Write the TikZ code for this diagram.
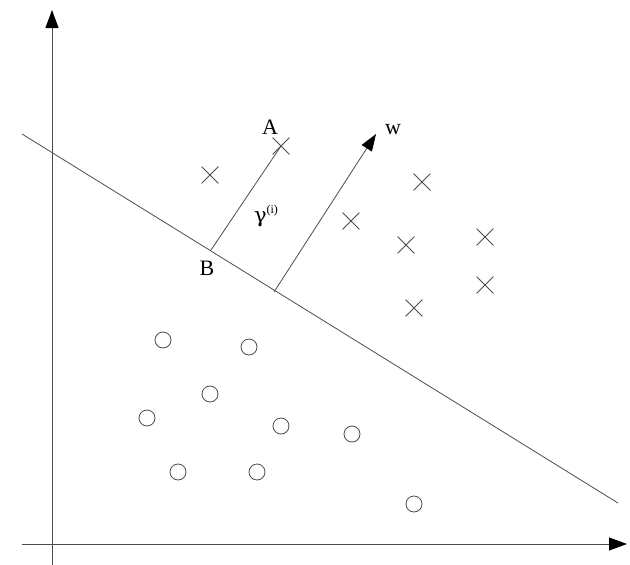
\documentclass[tikz,border=0pt]{standalone}
\usepackage{fontspec}
\setmainfont{Liberation Serif}
\newfontfamily\grkfont{DejaVu Serif}
\usetikzlibrary{arrows.meta,shapes.misc}
\begin{document}
\begin{tikzpicture}[x=1pt,y=-1pt,
  ln/.style={draw=black!70,line width=0.8pt},
  arr/.style={ln,-{Triangle[length=18pt,width=13pt,fill=black,color=black]}},
  warr/.style={ln,-{Triangle[length=17pt,width=12pt,fill=black,color=black]}},
  crossmark/.style={draw=black!70,line width=0.8pt,cross out,minimum size=16pt,inner sep=0pt},
  circmark/.style={draw=black!70,line width=0.8pt,circle,minimum size=16pt,inner sep=0pt},
  lbl/.style={font=\fontsize{22}{24}\selectfont,inner sep=0pt}]
\useasboundingbox (0,0) rectangle (630,565);
% axes
\coordinate (y0) at (52,565);
\coordinate (y1) at (52,10);
\coordinate (x0) at (22,544);
\coordinate (x1) at (627,544);
\draw[arr] (y0) -- (y1);
\draw[arr] (x0) -- (x1);
% separating line
\coordinate (h0) at (22,134);
\coordinate (h1) at (618,503);
\draw[ln] (h0) -- (h1);
% crosses
\node[crossmark] (c1) at (210,175) {};
\node[crossmark] (cA) at (281,146) {};
\node[crossmark] (c3) at (422,182) {};
\node[crossmark] (c4) at (351,221) {};
\node[crossmark] (c5) at (406,245) {};
\node[crossmark] (c6) at (485,237) {};
\node[crossmark] (c7) at (485,285) {};
\node[crossmark] (c8) at (414,308) {};
% circles
\node[circmark] (o1) at (163,340) {};
\node[circmark] (o2) at (249,347) {};
\node[circmark] (o3) at (210,394) {};
\node[circmark] (o4) at (147,418) {};
\node[circmark] (o5) at (281,426) {};
\node[circmark] (o6) at (352,434) {};
\node[circmark] (o7) at (178,472) {};
\node[circmark] (o8) at (257,472) {};
\node[circmark] (o9) at (414,504) {};
% margin segment
\coordinate (B) at (211,250);
\draw[ln] (B) -- (cA.center);
% w vector
\coordinate (w0) at (274,292);
\coordinate (w1) at (376,134);
\draw[warr] (w0) -- (w1);
% labels
\node[lbl] (lA) at (270,127) {A};
\node[lbl] (lB) at (207,268) {B};
\node[lbl] (lw) at (393,130) {w};
\node[lbl] (lg) at (266,216) {{\grkfont\fontsize{21}{22}\selectfont γ}\raisebox{0.4em}{\fontsize{12}{12}\selectfont (i)}};
\end{tikzpicture}
\end{document}
